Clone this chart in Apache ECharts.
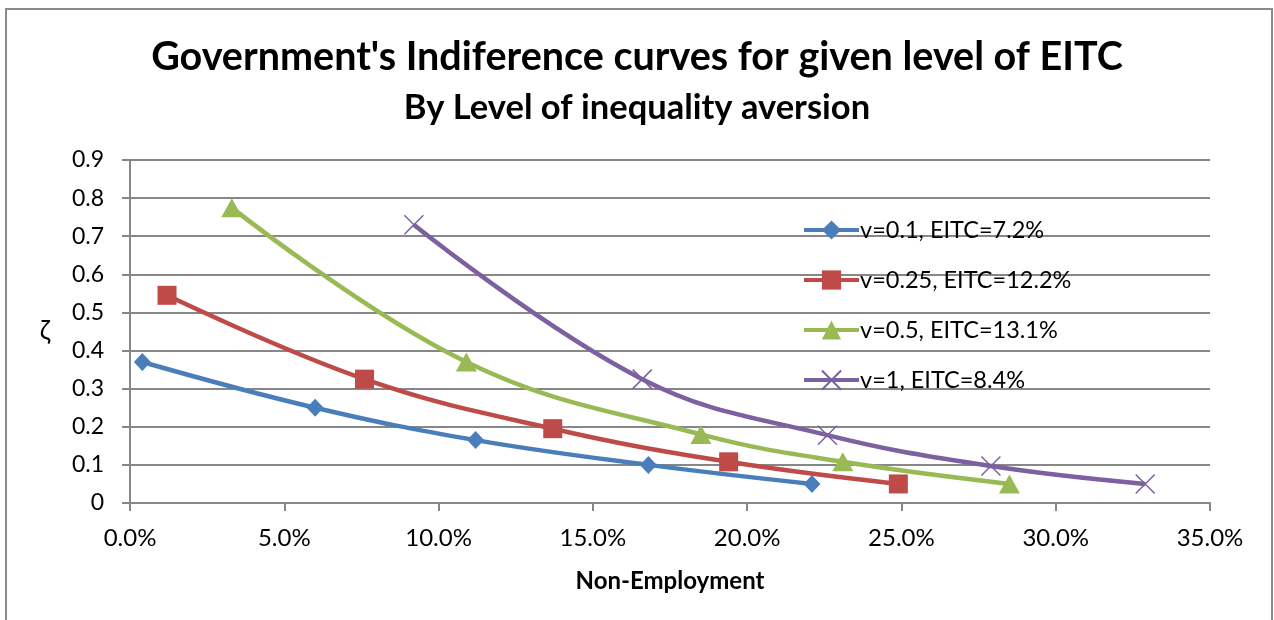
<!DOCTYPE html>
<html>
<head>
<meta charset="utf-8">
<script src="https://cdn.jsdelivr.net/npm/echarts@6/dist/echarts.min.js"></script>
<style>
  html, body { margin: 0; padding: 0; background: #fff; }
  #chart { width: 1274px; height: 620px; }
</style>
</head>
<body>
<div id="chart"></div>
<script>
// Non-employment rate (%) and zeta for each inequality-aversion level
const seriesNames = ['v=0.1, EITC=7.2%', 'v=0.25, EITC=12.2%', 'v=0.5, EITC=13.1%', 'v=1, EITC=8.4%'];

const nonEmpV01  = [0.4, 6.0, 11.2, 16.8, 22.1];
const zetaV01    = [0.37, 0.25, 0.165, 0.10, 0.05];

const nonEmpV025 = [1.2, 7.6, 13.7, 19.4, 24.9];
const zetaV025   = [0.545, 0.325, 0.195, 0.108, 0.05];

const nonEmpV05  = [3.3, 10.9, 18.5, 23.1, 28.5];
const zetaV05    = [0.775, 0.37, 0.18, 0.108, 0.05];

const nonEmpV1   = [9.2, 16.6, 22.6, 27.9, 32.9];
const zetaV1     = [0.73, 0.325, 0.178, 0.097, 0.05];

const xTicks = [0, 5, 10, 15, 20, 25, 30, 35];
const yTicks = [0, 0.1, 0.2, 0.3, 0.4, 0.5, 0.6, 0.7, 0.8, 0.9];

const colors = ['#4A7EBB', '#BE4B48', '#98B954', '#7D60A0'];
const FONT = 'Lato, "Open Sans", sans-serif';
const GRID_GREY = '#878787';

function pairs(xs, ys) { return xs.map((x, i) => [x, ys[i]]); }

const crossPath = 'path://M0,0L10,10M10,0L0,10';

const chart = echarts.init(document.getElementById('chart'), null, { renderer: 'canvas' });

const seriesDefs = [
  { x: nonEmpV01,  y: zetaV01,  symbol: 'diamond',  size: [17, 18] },
  { x: nonEmpV025, y: zetaV025, symbol: 'rect',     size: 19 },
  { x: nonEmpV05,  y: zetaV05,  symbol: 'triangle', size: [21, 19] },
  { x: nonEmpV1,   y: zetaV1,   symbol: crossPath,  size: 19 }
];

chart.setOption({
  animation: false,
  backgroundColor: '#ffffff',
  color: colors,
  graphic: [{
    type: 'rect',
    shape: { x: 6, y: 9, width: 1266, height: 640 },
    style: { fill: 'none', stroke: '#8a8a8a', lineWidth: 2 },
    silent: true
  }],
  title: [{
    text: "Government's Indiference curves for given level of EITC",
    left: 'center',
    top: 32,
    textStyle: { fontFamily: FONT, fontWeight: 'bold', fontSize: 39.5, color: '#000' }
  }, {
    text: 'By Level of inequality aversion',
    left: 'center',
    top: 85,
    textStyle: { fontFamily: FONT, fontWeight: 'bold', fontSize: 34.5, color: '#000' }
  }],
  legend: {
    orient: 'vertical',
    left: 797,
    top: 213,
    itemWidth: 55,
    itemHeight: 24,
    itemGap: 26,
    data: seriesNames,
    lineStyle: { width: 4 },
    textStyle: { fontFamily: FONT, fontSize: 23.5, color: '#000', padding: [0, 0, 0, -4] }
  },
  grid: { left: 130, right: 64, top: 160, bottom: 117, containLabel: false },
  xAxis: {
    type: 'value',
    min: xTicks[0],
    max: xTicks[xTicks.length - 1],
    interval: 5,
    name: 'Non-Employment',
    nameLocation: 'middle',
    nameGap: 66,
    nameTextStyle: { fontFamily: FONT, fontWeight: 'bold', fontSize: 24, color: '#000' },
    axisLine: { show: true, lineStyle: { color: GRID_GREY, width: 2 } },
    axisTick: { show: true, length: 8, lineStyle: { color: GRID_GREY, width: 2 } },
    axisLabel: {
      fontFamily: FONT, fontSize: 24, color: '#000', margin: 23,
      formatter: v => v.toFixed(1) + '%'
    },
    splitLine: { show: false }
  },
  yAxis: {
    type: 'value',
    min: yTicks[0],
    max: yTicks[yTicks.length - 1],
    interval: 0.1,
    name: 'ζ',
    nameLocation: 'middle',
    nameRotate: 0,
    nameGap: 80,
    nameTextStyle: { fontFamily: FONT, fontSize: 26, color: '#000' },
    axisLine: { show: true, lineStyle: { color: GRID_GREY, width: 2 } },
    axisTick: { show: true, length: 8, lineStyle: { color: GRID_GREY, width: 2 } },
    axisLabel: {
      fontFamily: FONT, fontSize: 23, color: '#000', margin: 26,
      formatter: v => (Math.round(v * 10) / 10).toString()
    },
    splitLine: { show: true, lineStyle: { color: GRID_GREY, width: 2 } }
  },
  series: seriesDefs.map((d, i) => ({
    name: seriesNames[i],
    type: 'line',
    smooth: 0.4,
    data: pairs(d.x, d.y),
    symbol: d.symbol,
    symbolSize: d.size,
    showAllSymbol: true,
    lineStyle: { width: 4.5, color: colors[i] },
    itemStyle: i === 3
      ? { color: 'none', borderColor: colors[i], borderWidth: 1.5 }
      : { color: colors[i], borderWidth: 0 },
    emphasis: { disabled: true },
    z: 2 + i
  }))
});
</script>
</body>
</html>
